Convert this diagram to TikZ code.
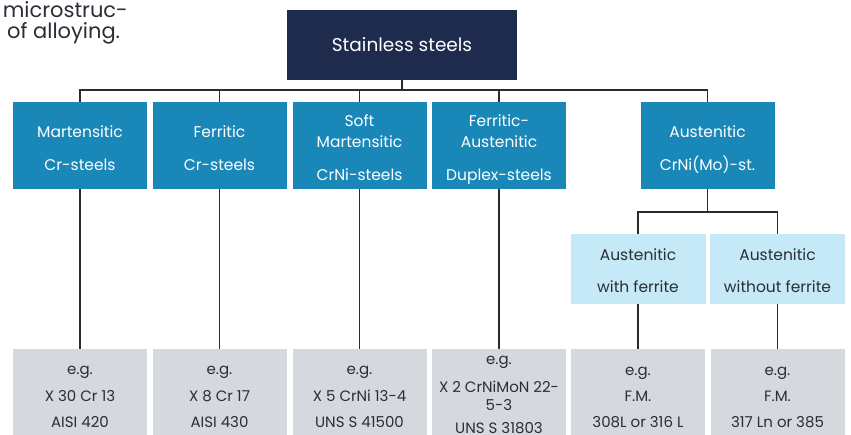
\documentclass[tikz,border=0pt]{standalone}
\usepackage{fontspec}
\setmainfont{Poppins}
\definecolor{navy}{HTML}{1F2B4D}
\definecolor{steelblue}{HTML}{1A87B9}
\definecolor{paleblue}{HTML}{C6E9F7}
\definecolor{palegray}{HTML}{D5D8DD}
\definecolor{linecol}{HTML}{2B2B2B}
\definecolor{textdark}{HTML}{2A2E36}
\newcommand\myup[1]{\rule{0pt}{#1}}
\newcommand\mydn[1]{\rule[-#1]{0pt}{#1}}
\tikzset{
  boxbase/.style={rectangle, inner sep=0pt, align=center},
  navybox/.style={boxbase, fill=navy, text=white, minimum width=230pt, minimum height=70pt, font=\fontsize{18.5}{20}\selectfont},
  bluebox/.style={boxbase, fill=steelblue, text=white, minimum width=134pt, minimum height=87pt, font=\fontsize{15.5}{17}\selectfont},
  lightbox/.style={boxbase, fill=paleblue, text=textdark, minimum width=135pt, minimum height=70pt, font=\fontsize{15.5}{17}\selectfont},
  graybox/.style={boxbase, fill=palegray, text=textdark, minimum width=134pt, minimum height=94pt, font=\fontsize{15}{15}\selectfont},
  conn/.style={draw=linecol, line width=1.5pt},
  intro/.style={inner sep=0pt, text=textdark, font=\fontsize{21}{23}\selectfont}
}
\begin{document}
\begin{tikzpicture}[x=1pt,y=-1pt]
\useasboundingbox (0,0) rectangle (851,434);
\clip (0,0) rectangle (851,434);

% intro text fragment
\node[intro, anchor=base east] (introA) at (128,17) {t microstruc-};
\node[intro, anchor=base west] (introB) at (7,38) {of alloying.};

% root
\node[navybox] (top) at (402,45) {Stainless steels};

% main classes
\node[bluebox] (b1) at (80,145.5) {\myup{20pt}Martensitic\\[16pt]Cr-steels\mydn{4pt}};
\node[bluebox] (b2) at (219.5,145.5) {\myup{20pt}Ferritic\\[16pt]Cr-steels\mydn{4pt}};
\node[bluebox] (b3) at (359.5,145.5) {\myup{20pt}Soft\\[4pt]Martensitic\\[16pt]CrNi-steels\mydn{4pt}};
\node[bluebox] (b4) at (499,145.5) {\myup{20pt}Ferritic-\\[4pt]Austenitic\\[16pt]Duplex-steels\mydn{4pt}};
\node[bluebox] (b5) at (707.5,145.5) {\myup{20pt}Austenitic\\[16pt]CrNi(Mo)-st.\mydn{4pt}};

% austenitic sub classes
\node[lightbox] (la) at (638,269) {\myup{18pt}Austenitic\\[15pt]with ferrite\mydn{4pt}};
\node[lightbox] (lb) at (777.5,269) {\myup{18pt}Austenitic\\[15pt]without ferrite\mydn{4pt}};

% examples
\node[graybox] (g1) at (80,396) {\myup{14pt}e.g.\\[11pt]X 30 Cr 13\\[11pt]AISI 420\mydn{4pt}};
\node[graybox] (g2) at (219.5,396) {\myup{14pt}e.g.\\[11pt]X 8 Cr 17\\[11pt]AISI 430\mydn{4pt}};
\node[graybox] (g3) at (359.5,396) {\myup{14pt}e.g.\\[11pt]X 5 CrNi 13-4\\[11pt]UNS S 41500\mydn{4pt}};
\node[graybox] (g4) at (499,396) {\myup{10pt}e.g.\\[12pt]X 2 CrNiMoN 22-\\[3pt]5-3\\[8pt]UNS S 31803\mydn{4pt}};
\node[graybox] (g5) at (638,396) {\myup{14pt}e.g.\\[11pt]F.M.\\[11pt]308L or 316 L\mydn{4pt}};
\node[graybox] (g6) at (777.5,396) {\myup{14pt}e.g.\\[11pt]F.M.\\[11pt]317 Ln or 385\mydn{4pt}};

% connectors
\coordinate (bus) at (0,90);
\coordinate (subbus) at (0,212);
\draw[conn] (top.south) -- (top.south |- bus);
\draw[conn] (b1.north) -- (b1.north |- bus) -| (b5.north);
\draw[conn] (b2.north) -- (b2.north |- bus);
\draw[conn] (b3.north) -- (b3.north |- bus);
\draw[conn] (b4.north) -- (b4.north |- bus);
\draw[conn] (b5.south) -- (b5.south |- subbus);
\draw[conn] (la.north) -- (la.north |- subbus) -| (lb.north);
\draw[conn] (b1.south) -- (g1.north);
\draw[conn] (b2.south) -- (g2.north);
\draw[conn] (b3.south) -- (g3.north);
\draw[conn] (b4.south) -- (g4.north);
\draw[conn] (la.south) -- (g5.north);
\draw[conn] (lb.south) -- (g6.north);
\end{tikzpicture}
\end{document}
